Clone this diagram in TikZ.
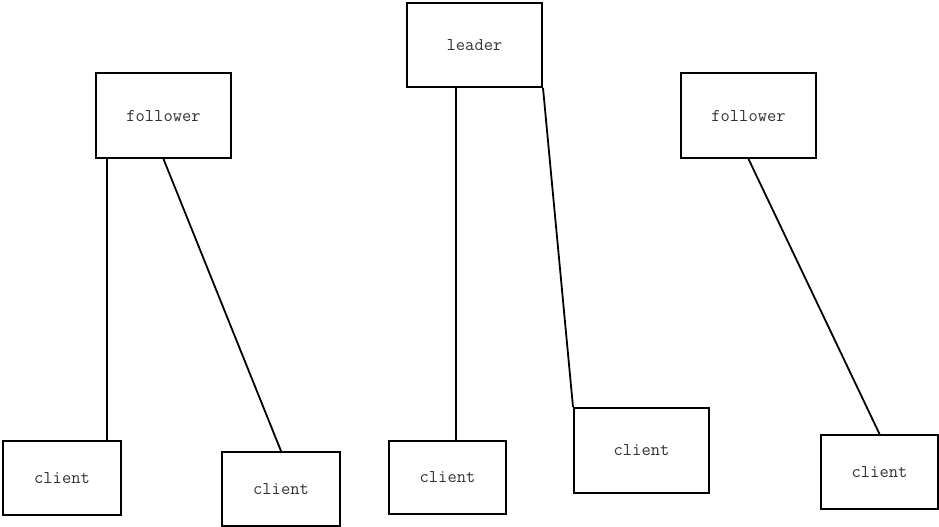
\documentclass[tikz,border=0pt]{standalone}
\usetikzlibrary{calc}
\begin{document}
\begin{tikzpicture}[x=1pt,y=-1pt,
  boxnode/.style={draw=black,line width=2pt,fill=white,inner sep=0pt,
    font=\fontsize{18}{21}\selectfont\ttfamily,text=black!80},
  link/.style={line width=1.8pt,draw=black}]
\useasboundingbox (0,0) rectangle (939,527);
\node[boxnode,minimum width=135pt,minimum height=85pt] (f1) at (163.5,115.5) {follower};
\node[boxnode,minimum width=135pt,minimum height=84pt] (ld) at (474.5,45) {leader};
\node[boxnode,minimum width=135pt,minimum height=85pt] (f2) at (748.5,115.5) {follower};
\node[boxnode,minimum width=118pt,minimum height=74pt] (c1) at (62,478) {client};
\node[boxnode,minimum width=118pt,minimum height=74pt] (c2) at (281,489) {client};
\node[boxnode,minimum width=117pt,minimum height=73pt] (c3) at (447.5,477.5) {client};
\node[boxnode,minimum width=135pt,minimum height=85pt] (c4) at (641.5,450.5) {client};
\node[boxnode,minimum width=117pt,minimum height=74pt] (c5) at (879.5,472) {client};
\draw[link] ([xshift=12pt]f1.south west) -- ([xshift=12pt]f1.south west |- c1.north);
\draw[link] (f1.south) -- (c2.north);
\draw[link] ([xshift=50pt]ld.south west) -- ([xshift=50pt]ld.south west |- c3.north);
\draw[link] (ld.south east) -- (c4.north west);
\draw[link] (f2.south) -- (c5.north);
\end{tikzpicture}
\end{document}
